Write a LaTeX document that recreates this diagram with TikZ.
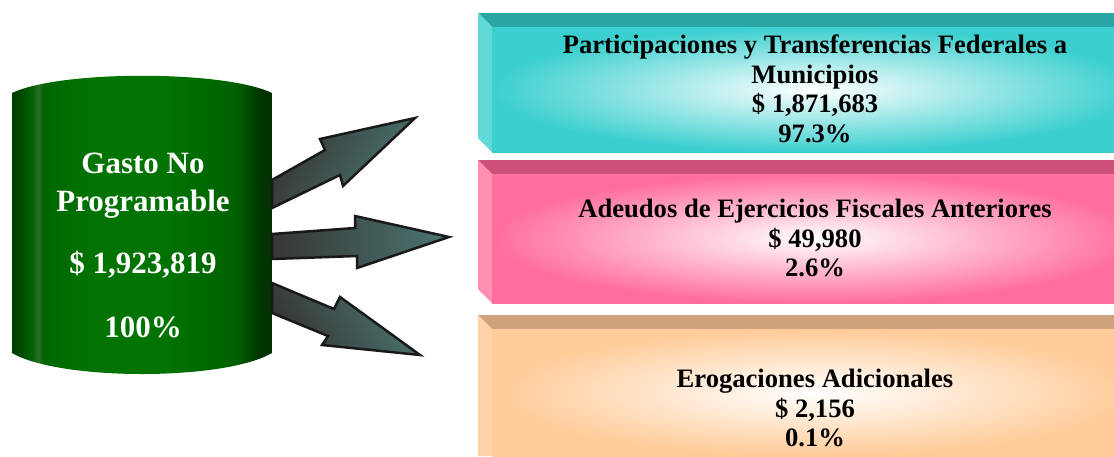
\documentclass[tikz,border=0pt]{standalone}
\usepackage{fontspec}
\setmainfont{Liberation Serif}
\usetikzlibrary{shadings}
\definecolor{tealF}{HTML}{3CCFCF}
\definecolor{tealT}{HTML}{2BA5A5}
\definecolor{tealL}{HTML}{62D9D9}
\definecolor{pinkF}{HTML}{FF6E9C}
\definecolor{pinkT}{HTML}{CC5078}
\definecolor{pinkL}{HTML}{FF90B2}
\definecolor{peachF}{HTML}{FFCB98}
\definecolor{peachT}{HTML}{CDA27C}
\definecolor{peachL}{HTML}{FFD4AA}
\definecolor{arrD}{HTML}{363636}
\definecolor{arrT}{HTML}{4A7670}
\pgfdeclarehorizontalshading{cylshade}{100bp}{
  color(0bp)=(black!60!green!60!black);
  color(25bp)=(black!60!green!60!black);
  color(27bp)=(green!30!black);
  color(29bp)=(green!40!black);
  color(30bp)=(gray!60!green!60!black);
  color(31bp)=(green!40!black);
  color(40bp)=(green!45!black);
  color(55bp)=(green!45!black);
  color(68bp)=(green!38!black);
  color(73bp)=(green!20!black);
  color(75bp)=(black!80!green);
  color(100bp)=(black!80!green)}
\tikzset{
  lbl/.style={font=\bfseries\fontsize{26.6}{29.5}\selectfont, align=center, text=black, inner sep=0pt},
  cyllbl/.style={font=\bfseries\fontsize{31}{38}\selectfont, align=center, text=white, inner sep=0pt},
  blockarrow/.style={draw=black!90, line width=2.5pt, line join=miter},
}
\begin{document}
\begin{tikzpicture}[x=1pt,y=-1pt]
\useasboundingbox (0,0) rectangle (1114,456);
% cylinder
\path[shading=cylshade] (12,93) .. controls (60,70) and (224,70) .. (272,93)
  -- (272,353) .. controls (224,381) and (60,381) .. (12,353) -- cycle;
\node[cyllbl] (gtitle) at (143,186) {Gasto No\\Programable};
\node[cyllbl] (gamount) at (143,265) {\$ 1,923,819};
\node[cyllbl] (gpct) at (143,327) {100\%};
% arrows
\filldraw[blockarrow, left color=arrD, right color=arrT, shading angle=60]
  (272,180) -- (325,150) -- (320,139) -- (415,118) -- (343,186) -- (340,175) -- (272,208) -- cycle;
\filldraw[blockarrow, left color=arrD, right color=arrT]
  (272,234) -- (355,228) -- (355,216) -- (449,237) -- (357,268) -- (357,256) -- (272,259) -- cycle;
\filldraw[blockarrow, left color=arrD, right color=arrT, shading angle=120]
  (272,283) -- (334,309) -- (340,297) -- (420,355) -- (322,345) -- (328,336) -- (272,313) -- cycle;
% box 1 teal
\fill[tealT] (478,13) -- (1114,13) -- (1114,27) -- (492,27) -- cycle;
\fill[tealL] (478,13) -- (492,27) -- (492,152) -- (478,138) -- cycle;
\fill[tealF] (492,27) rectangle (1114,152);
\shade[inner color=white, outer color=tealF] (492,27) rectangle (1138,152);
\node[lbl] (b1) at (815,89) {Participaciones y Transferencias Federales a\\Municipios\\\$ 1,871,683\\97.3\%};
% box 2 pink
\fill[pinkT] (478,160) -- (1114,160) -- (1114,174) -- (492,174) -- cycle;
\fill[pinkL] (478,160) -- (492,174) -- (492,303) -- (478,289) -- cycle;
\fill[pinkF] (492,174) rectangle (1114,303);
\shade[inner color=white, outer color=pinkF] (492,174) rectangle (1138,303);
\node[lbl] (b2) at (815,238) {Adeudos de Ejercicios Fiscales Anteriores\\\$ 49,980\\2.6\%};
% box 3 peach
\fill[peachT] (478,315) -- (1114,315) -- (1114,329) -- (492,329) -- cycle;
\fill[peachL] (478,315) -- (492,329) -- (492,456) -- (478,456) -- cycle;
\fill[peachF] (492,329) rectangle (1114,456);
\shade[inner color=white, outer color=peachF] (492,329) rectangle (1138,456);
\node[lbl] (b3) at (815,408) {Erogaciones Adicionales\\\$ 2,156\\0.1\%};
\end{tikzpicture}
\end{document}
